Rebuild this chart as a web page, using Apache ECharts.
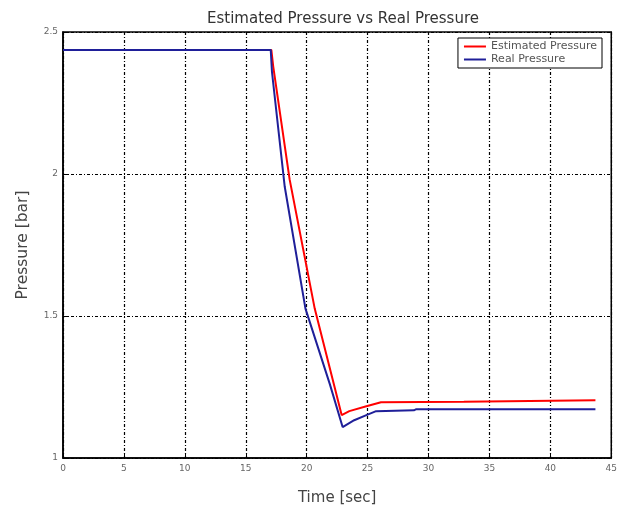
<!DOCTYPE html>
<html>
<head>
<meta charset="utf-8">
<script src="https://cdn.jsdelivr.net/npm/echarts@6/dist/echarts.min.js"></script>
<style>
  html, body { margin: 0; padding: 0; background: #fff; }
  #chart { width: 620px; height: 511px; }
</style>
</head>
<body>
<div id="chart"></div>
<script>
// values: [time (s), pressure (bar)]
const estimatedPressure = [
  [0, 2.437], [17.1, 2.437], [17.25, 2.38], [18.6, 1.981], [20.66, 1.526],
  [22.87, 1.151], [23.5, 1.165], [24.9, 1.182], [26.1, 1.196], [32.9, 1.198],
  [33.0, 1.203], [43.7, 1.203]
]
const realPressure = [
  [0, 2.437], [17.05, 2.437], [17.15, 2.36], [18.2, 1.955], [19.9, 1.526],
  [21.9, 1.26], [22.95, 1.109], [23.9, 1.133], [24.9, 1.151], [25.7, 1.165],
  [28.8, 1.168], [29.0, 1.172], [43.7, 1.172]
]
const seriesNames = ['Estimated Pressure', 'Real Pressure']

const FONT = 'DejaVu Sans, sans-serif'
const dashDot = [3, 2, 1, 2]

const chart = echarts.init(document.getElementById('chart'))

chart.setOption({
  animation: false,
  backgroundColor: '#fff',
  title: {
    text: 'Estimated Pressure vs Real Pressure',
    left: 338,
    top: 7,
    textAlign: 'center',
    textStyle: { fontFamily: FONT, fontSize: 15, fontWeight: 'normal', color: '#333' }
  },
  legend: {
    orient: 'vertical',
    right: 18,
    top: 38,
    itemWidth: 22,
    itemHeight: 2,
    itemGap: 2,
    padding: [3, 5, 3, 6],
    backgroundColor: '#fff',
    borderColor: '#000',
    borderWidth: 1,
    icon: 'rect',
    textStyle: { fontFamily: FONT, fontSize: 11, color: '#555' },
    data: seriesNames
  },
  grid: {
    left: 63,
    right: 8,
    top: 32,
    bottom: 51,
    show: true,
    borderColor: '#000',
    borderWidth: 1.5
  },
  xAxis: {
    type: 'value',
    min: 0,
    max: 45,
    interval: 5,
    name: 'Time [sec]',
    nameLocation: 'middle',
    nameGap: 33,
    nameTextStyle: { fontFamily: FONT, fontSize: 15, color: '#444' },
    axisLine: { lineStyle: { color: '#000', width: 1.5 } },
    axisTick: { inside: true, length: 5, lineStyle: { color: '#000' } },
    axisLabel: { fontFamily: FONT, fontSize: 9, color: '#666', margin: 6 },
    splitLine: { show: true, lineStyle: { color: '#000', type: dashDot, width: 1.2 } }
  },
  yAxis: {
    type: 'value',
    min: 1,
    max: 2.5,
    interval: 0.5,
    name: 'Pressure [bar]',
    nameLocation: 'middle',
    nameGap: 32,
    nameTextStyle: { fontFamily: FONT, fontSize: 15.5, color: '#444' },
    axisLine: { show: true, lineStyle: { color: '#000', width: 1.5 } },
    axisTick: { show: true, inside: true, length: 5, lineStyle: { color: '#000' } },
    axisLabel: { fontFamily: FONT, fontSize: 9, color: '#666', margin: 5 },
    splitLine: { show: true, lineStyle: { color: '#000', type: dashDot, width: 1.2 } }
  },
  series: [
    {
      name: seriesNames[0],
      type: 'line',
      showSymbol: false,
      itemStyle: { color: '#ff0000' },
      lineStyle: { color: '#ff0000', width: 2 },
      data: estimatedPressure
    },
    {
      name: seriesNames[1],
      type: 'line',
      showSymbol: false,
      itemStyle: { color: '#1f1f99' },
      lineStyle: { color: '#1f1f99', width: 2 },
      data: realPressure
    }
  ]
})
</script>
</body>
</html>
